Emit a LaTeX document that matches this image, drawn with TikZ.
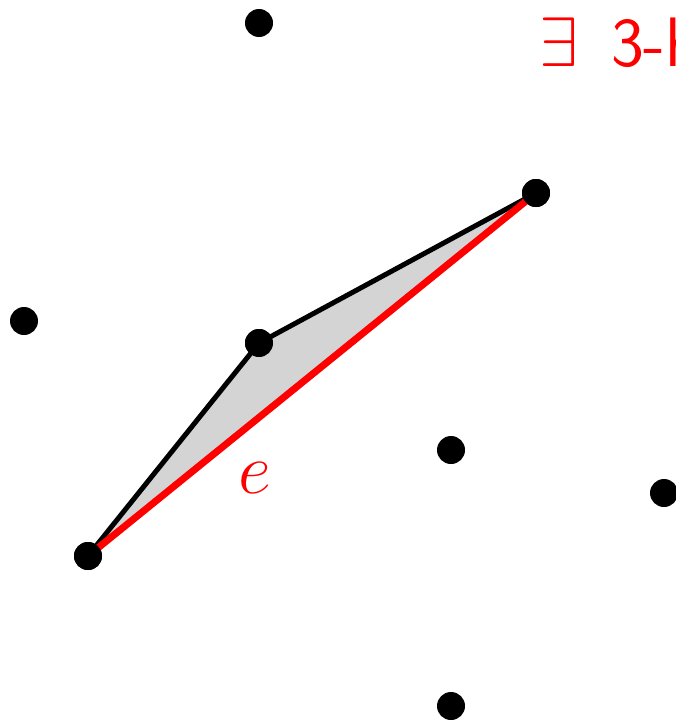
\RequirePackage{fix-cm}
\documentclass[tikz,border=0pt]{standalone}
\begin{document}
\begin{tikzpicture}[x=1pt,y=-1pt,
  pt/.style={circle,fill=black,inner sep=0pt,minimum size=28pt},
  blk/.style={line width=5pt,black,line join=round},
  redl/.style={line width=7pt,red}]
\useasboundingbox (0,0) rectangle (676,720);
\node[pt] (p1) at (259,23) {};
\node[pt] (p2) at (536,193) {};
\node[pt] (p3) at (24,321) {};
\node[pt] (p4) at (259,343) {};
\node[pt] (p5) at (451,450) {};
\node[pt] (p6) at (664,493) {};
\node[pt] (p7) at (88,556) {};
\node[pt] (p8) at (451,706) {};
\fill[black!17] (p7.center) -- (p4.center) -- (p2.center) -- cycle;
\draw[blk] (p7.center) -- (p4.center) -- (p2.center);
\draw[redl] (p7.center) -- (p2.center);
\node[pt] at (p2) {};
\node[pt] at (p4) {};
\node[pt] at (p7) {};
\node[red,font=\fontsize{72}{80}\selectfont] (e) at (255,478) {$e$};
\node[red,anchor=base west,inner sep=0pt,font=\fontsize{70}{80}\selectfont\sffamily] (t) at (539,66) {$\exists$\hspace{11pt} 3-hole};
\end{tikzpicture}
\end{document}
